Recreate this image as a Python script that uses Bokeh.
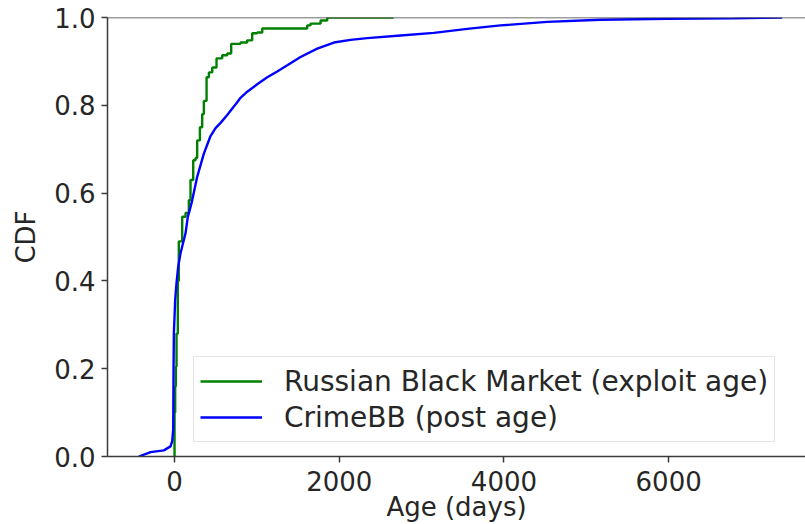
from bokeh.plotting import figure
from bokeh.models import Range1d, FixedTicker, PrintfTickFormatter, Span, Legend, LegendItem
from bokeh.embed import file_html
from bokeh.resources import INLINE

# ---- data ----
rbm_label = "Russian Black Market (exploit age)"
rbm_x = [0, 0, 8, 16, 24, 40, 52, 93, 134, 174, 194, 227, 255, 275, 308, 336, 356, 389,
         417, 458, 510, 579, 640, 688, 801, 882, 943, 1004, 1065, 1611, 1651, 1773, 1854, 2660]
rbm_y = [0.0, 0.10, 0.16, 0.205, 0.28, 0.40, 0.49, 0.546, 0.555, 0.584, 0.63, 0.675, 0.68,
         0.72, 0.75, 0.78, 0.81, 0.864, 0.875, 0.886, 0.907, 0.914, 0.918, 0.94, 0.943,
         0.948, 0.964, 0.966, 0.975, 0.982, 0.986, 0.993, 1.0, 1.0]

crimebb_label = "CrimeBB (post age)"
crimebb_x = [-433, -291, -130, -49, -28, -16, -12, -8, 8, 24, 45, 73, 134, 161, 194, 215,
             275, 356, 437, 498, 559, 640, 720, 761, 801, 883, 1004, 1126, 1247, 1369,
             1530, 1733, 1935, 2137, 2340, 2744, 3149, 3554, 3959, 4526, 5173, 5983,
             6788, 7379]
crimebb_y = [0.0, 0.010, 0.014, 0.023, 0.035, 0.061, 0.20, 0.28, 0.357, 0.395, 0.433,
             0.463, 0.509, 0.546, 0.568, 0.584, 0.637, 0.69, 0.730, 0.748, 0.760, 0.778,
             0.797, 0.807, 0.817, 0.831, 0.848, 0.864, 0.877, 0.891, 0.910, 0.929, 0.943,
             0.949, 0.953, 0.959, 0.965, 0.974, 0.982, 0.990, 0.995, 0.997, 0.998, 1.0]

x_ticks = [0, 2000, 4000, 6000]
y_ticks = [0.0, 0.2, 0.4, 0.6, 0.8, 1.0]
x_title = "Age (days)"
y_title = "CDF"

FONT = "DejaVu Sans"
TXT = "#262626"
AX = "#3a3a3a"

p = figure(width=805, height=524, output_backend="svg", toolbar_location=None,
           x_range=Range1d(-814, 7662), y_range=Range1d(0, 1),
           min_border_left=107, min_border_top=17, min_border_right=0, min_border_bottom=67)

p.outline_line_color = None
p.xgrid.visible = False
p.ygrid.visible = False
p.background_fill_color = "white"
p.border_fill_color = "white"

r_rbm = p.step(rbm_x, rbm_y, mode="after", line_color="green", line_width=2.4)
r_cbb = p.line(crimebb_x, crimebb_y, line_color="blue", line_width=2.4)

p.add_layout(Span(location=1.0, dimension="width", line_color=AX, line_width=1.5))

for ax in (p.xaxis[0], p.yaxis[0]):
    ax.axis_line_color = AX
    ax.axis_line_width = 1.5
    ax.major_tick_line_color = AX
    ax.major_tick_line_width = 1.5
    ax.major_tick_in = 0
    ax.major_tick_out = 6
    ax.minor_tick_line_color = None
    ax.major_label_text_font = FONT
    ax.major_label_text_font_size = "26px"
    ax.major_label_text_color = TXT
    ax.axis_label_text_font = FONT
    ax.axis_label_text_font_size = "26px"
    ax.axis_label_text_font_style = "normal"
    ax.axis_label_text_color = TXT

p.xaxis.ticker = FixedTicker(ticks=x_ticks)
p.yaxis.ticker = FixedTicker(ticks=y_ticks)
p.yaxis.formatter = PrintfTickFormatter(format="%.1f")
p.xaxis.axis_label = x_title
p.yaxis.axis_label = y_title
p.xaxis.major_label_standoff = 8
p.xaxis.axis_label_standoff = -2
p.yaxis.major_label_standoff = 6
p.yaxis.axis_label_standoff = 10

legend = Legend(items=[LegendItem(label=rbm_label, renderers=[r_rbm]),
                       LegendItem(label=crimebb_label, renderers=[r_cbb])],
                location=(86, 14))
legend.label_text_font = FONT
legend.label_text_font_size = "28px"
legend.label_text_color = TXT
legend.glyph_width = 62
legend.glyph_height = 36
legend.label_height = 36
legend.label_standoff = 22
legend.padding = 6
legend.spacing = 0
legend.margin = 0
legend.border_line_color = "#cccccc"
legend.border_line_width = 1.5
legend.background_fill_alpha = 0.8
p.add_layout(legend)

open("out.html", "w").write(file_html(p, INLINE))
